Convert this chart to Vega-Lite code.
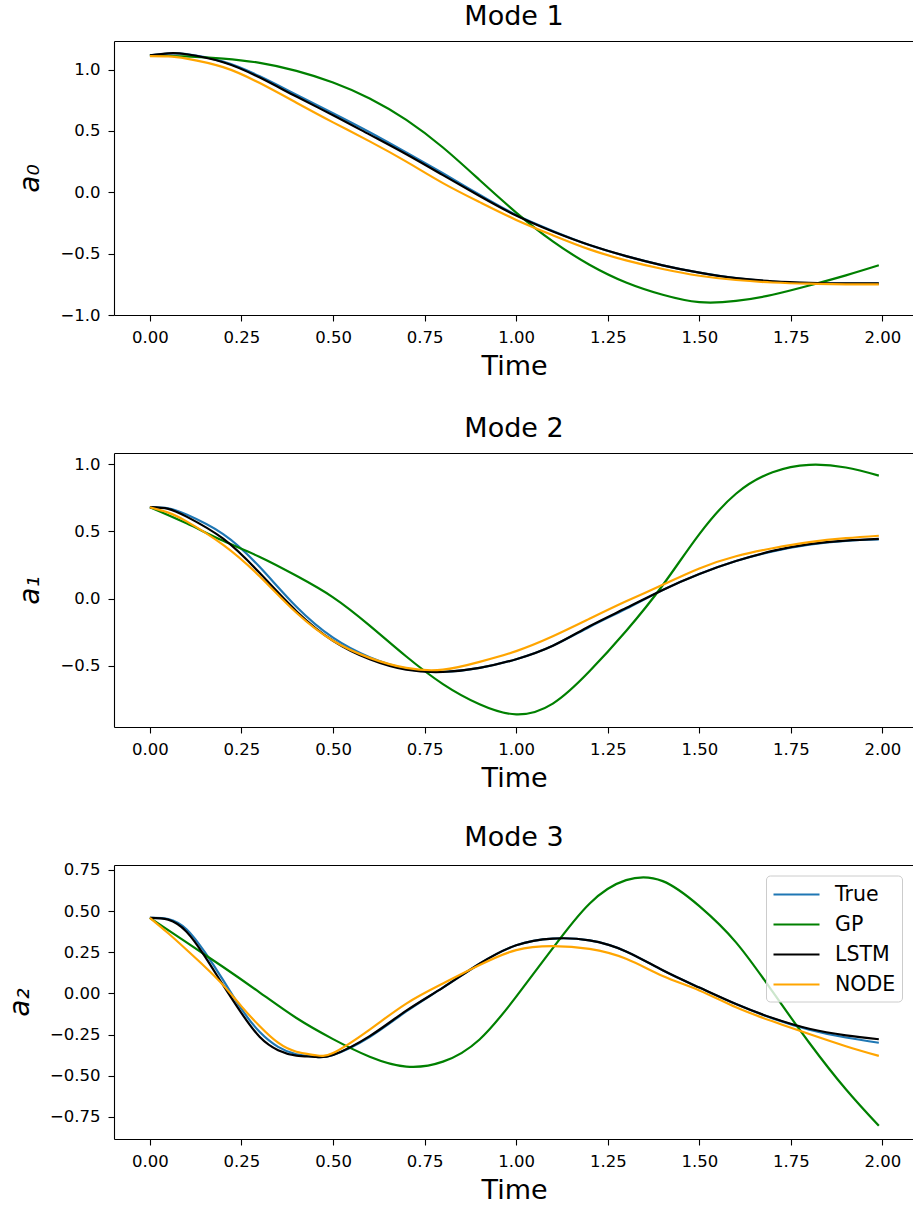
{
"$schema": "https://vega.github.io/schema/vega-lite/v6.json",
"autosize": {"type": "pad"},
"padding": {"left": 6, "top": 3, "right": 0, "bottom": 0},
"background": "white",
"config": {
 "font": "DejaVu Sans",
 "view": {"stroke": null},
 "axis": {"grid": false, "domainColor": "#000", "domainWidth": 1.1, "tickColor": "#000", "tickWidth": 1.1, "tickSize": 6, "labelFont": "DejaVu Sans", "labelFontSize": 16.5, "labelColor": "#000", "titleFont": "DejaVu Sans", "titleFontSize": 27, "titleFontWeight": "normal", "titleColor": "#000", "labelFlush": false},
 "axisX": {"titlePadding": 8, "labelPadding": 8},
 "axisY": {"titlePadding": 15, "labelPadding": 8, "titleFontStyle": "italic", "titleFontSize": 28},
 "title": {"font": "DejaVu Sans", "fontSize": 27, "fontWeight": "normal", "color": "#000", "offset": 10, "baseline": "alphabetic", "anchor": "middle"}
},
"datasets": {
 "m1": [
  {"t":0,"v":1.117,"s":"True"},{"t":0.05,"v":1.13,"s":"True"},{"t":0.1,"v":1.127,"s":"True"},{"t":0.2,"v":1.065,"s":"True"},{"t":0.3,"v":0.945,"s":"True"},{"t":0.4,"v":0.795,"s":"True"},{"t":0.5,"v":0.645,"s":"True"},{"t":0.6,"v":0.49,"s":"True"},{"t":0.7,"v":0.325,"s":"True"},{"t":0.8,"v":0.155,"s":"True"},{"t":0.9,"v":-0.02,"s":"True"},{"t":1.0,"v":-0.185,"s":"True"},{"t":1.1,"v":-0.315,"s":"True"},{"t":1.2,"v":-0.43,"s":"True"},{"t":1.3,"v":-0.52,"s":"True"},{"t":1.4,"v":-0.595,"s":"True"},{"t":1.5,"v":-0.655,"s":"True"},{"t":1.6,"v":-0.7,"s":"True"},{"t":1.7,"v":-0.727,"s":"True"},{"t":1.8,"v":-0.74,"s":"True"},{"t":1.9,"v":-0.745,"s":"True"},{"t":1.99,"v":-0.745,"s":"True"},
  {"t":0,"v":1.115,"s":"GP"},{"t":0.1,"v":1.108,"s":"GP"},{"t":0.2,"v":1.09,"s":"GP"},{"t":0.3,"v":1.055,"s":"GP"},{"t":0.4,"v":0.99,"s":"GP"},{"t":0.5,"v":0.895,"s":"GP"},{"t":0.6,"v":0.765,"s":"GP"},{"t":0.7,"v":0.59,"s":"GP"},{"t":0.8,"v":0.365,"s":"GP"},{"t":0.9,"v":0.1,"s":"GP"},{"t":1.0,"v":-0.165,"s":"GP"},{"t":1.1,"v":-0.4,"s":"GP"},{"t":1.2,"v":-0.59,"s":"GP"},{"t":1.3,"v":-0.735,"s":"GP"},{"t":1.4,"v":-0.835,"s":"GP"},{"t":1.5,"v":-0.895,"s":"GP"},{"t":1.6,"v":-0.885,"s":"GP"},{"t":1.7,"v":-0.835,"s":"GP"},{"t":1.8,"v":-0.76,"s":"GP"},{"t":1.9,"v":-0.677,"s":"GP"},{"t":1.99,"v":-0.595,"s":"GP"},
  {"t":0,"v":1.117,"s":"LSTM"},{"t":0.05,"v":1.132,"s":"LSTM"},{"t":0.1,"v":1.125,"s":"LSTM"},{"t":0.2,"v":1.06,"s":"LSTM"},{"t":0.3,"v":0.935,"s":"LSTM"},{"t":0.4,"v":0.78,"s":"LSTM"},{"t":0.5,"v":0.628,"s":"LSTM"},{"t":0.6,"v":0.47,"s":"LSTM"},{"t":0.7,"v":0.31,"s":"LSTM"},{"t":0.8,"v":0.14,"s":"LSTM"},{"t":0.9,"v":-0.03,"s":"LSTM"},{"t":1.0,"v":-0.19,"s":"LSTM"},{"t":1.1,"v":-0.32,"s":"LSTM"},{"t":1.2,"v":-0.43,"s":"LSTM"},{"t":1.3,"v":-0.52,"s":"LSTM"},{"t":1.4,"v":-0.595,"s":"LSTM"},{"t":1.5,"v":-0.655,"s":"LSTM"},{"t":1.6,"v":-0.7,"s":"LSTM"},{"t":1.7,"v":-0.725,"s":"LSTM"},{"t":1.8,"v":-0.737,"s":"LSTM"},{"t":1.9,"v":-0.742,"s":"LSTM"},{"t":1.99,"v":-0.742,"s":"LSTM"},
  {"t":0,"v":1.11,"s":"NODE"},{"t":0.05,"v":1.108,"s":"NODE"},{"t":0.1,"v":1.09,"s":"NODE"},{"t":0.2,"v":1.02,"s":"NODE"},{"t":0.3,"v":0.89,"s":"NODE"},{"t":0.4,"v":0.73,"s":"NODE"},{"t":0.5,"v":0.57,"s":"NODE"},{"t":0.6,"v":0.415,"s":"NODE"},{"t":0.7,"v":0.25,"s":"NODE"},{"t":0.8,"v":0.075,"s":"NODE"},{"t":0.9,"v":-0.08,"s":"NODE"},{"t":1.0,"v":-0.225,"s":"NODE"},{"t":1.1,"v":-0.35,"s":"NODE"},{"t":1.2,"v":-0.465,"s":"NODE"},{"t":1.3,"v":-0.555,"s":"NODE"},{"t":1.4,"v":-0.625,"s":"NODE"},{"t":1.5,"v":-0.68,"s":"NODE"},{"t":1.6,"v":-0.715,"s":"NODE"},{"t":1.7,"v":-0.735,"s":"NODE"},{"t":1.8,"v":-0.745,"s":"NODE"},{"t":1.9,"v":-0.75,"s":"NODE"},{"t":1.99,"v":-0.75,"s":"NODE"}
 ],
 "m2": [
  {"t":0,"v":0.68,"s":"True"},{"t":0.05,"v":0.672,"s":"True"},{"t":0.1,"v":0.625,"s":"True"},{"t":0.2,"v":0.48,"s":"True"},{"t":0.3,"v":0.235,"s":"True"},{"t":0.4,"v":-0.06,"s":"True"},{"t":0.5,"v":-0.29,"s":"True"},{"t":0.6,"v":-0.435,"s":"True"},{"t":0.7,"v":-0.52,"s":"True"},{"t":0.8,"v":-0.543,"s":"True"},{"t":0.9,"v":-0.515,"s":"True"},{"t":1.0,"v":-0.45,"s":"True"},{"t":1.1,"v":-0.35,"s":"True"},{"t":1.2,"v":-0.21,"s":"True"},{"t":1.3,"v":-0.075,"s":"True"},{"t":1.4,"v":0.065,"s":"True"},{"t":1.5,"v":0.184,"s":"True"},{"t":1.6,"v":0.28,"s":"True"},{"t":1.7,"v":0.352,"s":"True"},{"t":1.8,"v":0.402,"s":"True"},{"t":1.9,"v":0.43,"s":"True"},{"t":1.99,"v":0.44,"s":"True"},
  {"t":0,"v":0.68,"s":"GP"},{"t":0.1,"v":0.56,"s":"GP"},{"t":0.2,"v":0.43,"s":"GP"},{"t":0.3,"v":0.31,"s":"GP"},{"t":0.4,"v":0.17,"s":"GP"},{"t":0.5,"v":0.01,"s":"GP"},{"t":0.6,"v":-0.2,"s":"GP"},{"t":0.7,"v":-0.43,"s":"GP"},{"t":0.8,"v":-0.635,"s":"GP"},{"t":0.9,"v":-0.785,"s":"GP"},{"t":1.0,"v":-0.86,"s":"GP"},{"t":1.1,"v":-0.78,"s":"GP"},{"t":1.2,"v":-0.54,"s":"GP"},{"t":1.3,"v":-0.24,"s":"GP"},{"t":1.4,"v":0.1,"s":"GP"},{"t":1.5,"v":0.48,"s":"GP"},{"t":1.6,"v":0.78,"s":"GP"},{"t":1.7,"v":0.94,"s":"GP"},{"t":1.8,"v":0.995,"s":"GP"},{"t":1.9,"v":0.975,"s":"GP"},{"t":1.99,"v":0.915,"s":"GP"},
  {"t":0,"v":0.68,"s":"LSTM"},{"t":0.05,"v":0.668,"s":"LSTM"},{"t":0.1,"v":0.61,"s":"LSTM"},{"t":0.2,"v":0.446,"s":"LSTM"},{"t":0.3,"v":0.19,"s":"LSTM"},{"t":0.4,"v":-0.093,"s":"LSTM"},{"t":0.5,"v":-0.313,"s":"LSTM"},{"t":0.6,"v":-0.45,"s":"LSTM"},{"t":0.7,"v":-0.528,"s":"LSTM"},{"t":0.8,"v":-0.545,"s":"LSTM"},{"t":0.9,"v":-0.515,"s":"LSTM"},{"t":1.0,"v":-0.45,"s":"LSTM"},{"t":1.1,"v":-0.35,"s":"LSTM"},{"t":1.2,"v":-0.205,"s":"LSTM"},{"t":1.3,"v":-0.07,"s":"LSTM"},{"t":1.4,"v":0.065,"s":"LSTM"},{"t":1.5,"v":0.184,"s":"LSTM"},{"t":1.6,"v":0.28,"s":"LSTM"},{"t":1.7,"v":0.355,"s":"LSTM"},{"t":1.8,"v":0.405,"s":"LSTM"},{"t":1.9,"v":0.432,"s":"LSTM"},{"t":1.99,"v":0.445,"s":"LSTM"},
  {"t":0,"v":0.68,"s":"NODE"},{"t":0.05,"v":0.64,"s":"NODE"},{"t":0.1,"v":0.575,"s":"NODE"},{"t":0.2,"v":0.4,"s":"NODE"},{"t":0.3,"v":0.165,"s":"NODE"},{"t":0.4,"v":-0.105,"s":"NODE"},{"t":0.5,"v":-0.313,"s":"NODE"},{"t":0.6,"v":-0.44,"s":"NODE"},{"t":0.7,"v":-0.515,"s":"NODE"},{"t":0.8,"v":-0.528,"s":"NODE"},{"t":0.9,"v":-0.47,"s":"NODE"},{"t":1.0,"v":-0.39,"s":"NODE"},{"t":1.1,"v":-0.28,"s":"NODE"},{"t":1.2,"v":-0.15,"s":"NODE"},{"t":1.3,"v":-0.02,"s":"NODE"},{"t":1.4,"v":0.103,"s":"NODE"},{"t":1.5,"v":0.225,"s":"NODE"},{"t":1.6,"v":0.315,"s":"NODE"},{"t":1.7,"v":0.375,"s":"NODE"},{"t":1.8,"v":0.42,"s":"NODE"},{"t":1.9,"v":0.45,"s":"NODE"},{"t":1.99,"v":0.468,"s":"NODE"}
 ],
 "m3": [
  {"t":0,"v":0.459,"s":"True"},{"t":0.05,"v":0.452,"s":"True"},{"t":0.1,"v":0.39,"s":"True"},{"t":0.15,"v":0.25,"s":"True"},{"t":0.2,"v":0.08,"s":"True"},{"t":0.25,"v":-0.095,"s":"True"},{"t":0.3,"v":-0.235,"s":"True"},{"t":0.35,"v":-0.325,"s":"True"},{"t":0.4,"v":-0.37,"s":"True"},{"t":0.45,"v":-0.385,"s":"True"},{"t":0.5,"v":-0.374,"s":"True"},{"t":0.6,"v":-0.265,"s":"True"},{"t":0.7,"v":-0.11,"s":"True"},{"t":0.8,"v":0.035,"s":"True"},{"t":0.9,"v":0.18,"s":"True"},{"t":1.0,"v":0.292,"s":"True"},{"t":1.1,"v":0.333,"s":"True"},{"t":1.2,"v":0.322,"s":"True"},{"t":1.3,"v":0.255,"s":"True"},{"t":1.4,"v":0.14,"s":"True"},{"t":1.5,"v":0.035,"s":"True"},{"t":1.6,"v":-0.065,"s":"True"},{"t":1.7,"v":-0.152,"s":"True"},{"t":1.8,"v":-0.22,"s":"True"},{"t":1.9,"v":-0.268,"s":"True"},{"t":1.99,"v":-0.3,"s":"True"},
  {"t":0,"v":0.459,"s":"GP"},{"t":0.1,"v":0.31,"s":"GP"},{"t":0.2,"v":0.16,"s":"GP"},{"t":0.3,"v":0.005,"s":"GP"},{"t":0.4,"v":-0.15,"s":"GP"},{"t":0.5,"v":-0.278,"s":"GP"},{"t":0.6,"v":-0.385,"s":"GP"},{"t":0.7,"v":-0.445,"s":"GP"},{"t":0.8,"v":-0.415,"s":"GP"},{"t":0.9,"v":-0.28,"s":"GP"},{"t":1.0,"v":-0.02,"s":"GP"},{"t":1.1,"v":0.275,"s":"GP"},{"t":1.2,"v":0.545,"s":"GP"},{"t":1.3,"v":0.688,"s":"GP"},{"t":1.4,"v":0.682,"s":"GP"},{"t":1.5,"v":0.53,"s":"GP"},{"t":1.6,"v":0.31,"s":"GP"},{"t":1.7,"v":0.01,"s":"GP"},{"t":1.8,"v":-0.3,"s":"GP"},{"t":1.9,"v":-0.583,"s":"GP"},{"t":1.99,"v":-0.805,"s":"GP"},
  {"t":0,"v":0.459,"s":"LSTM"},{"t":0.05,"v":0.448,"s":"LSTM"},{"t":0.1,"v":0.375,"s":"LSTM"},{"t":0.15,"v":0.225,"s":"LSTM"},{"t":0.2,"v":0.05,"s":"LSTM"},{"t":0.25,"v":-0.12,"s":"LSTM"},{"t":0.3,"v":-0.265,"s":"LSTM"},{"t":0.35,"v":-0.345,"s":"LSTM"},{"t":0.4,"v":-0.378,"s":"LSTM"},{"t":0.45,"v":-0.386,"s":"LSTM"},{"t":0.5,"v":-0.374,"s":"LSTM"},{"t":0.6,"v":-0.26,"s":"LSTM"},{"t":0.7,"v":-0.105,"s":"LSTM"},{"t":0.8,"v":0.035,"s":"LSTM"},{"t":0.9,"v":0.18,"s":"LSTM"},{"t":1.0,"v":0.292,"s":"LSTM"},{"t":1.1,"v":0.333,"s":"LSTM"},{"t":1.2,"v":0.322,"s":"LSTM"},{"t":1.3,"v":0.255,"s":"LSTM"},{"t":1.4,"v":0.14,"s":"LSTM"},{"t":1.5,"v":0.035,"s":"LSTM"},{"t":1.6,"v":-0.065,"s":"LSTM"},{"t":1.7,"v":-0.15,"s":"LSTM"},{"t":1.8,"v":-0.215,"s":"LSTM"},{"t":1.9,"v":-0.255,"s":"LSTM"},{"t":1.99,"v":-0.279,"s":"LSTM"},
  {"t":0,"v":0.459,"s":"NODE"},{"t":0.05,"v":0.365,"s":"NODE"},{"t":0.1,"v":0.265,"s":"NODE"},{"t":0.15,"v":0.162,"s":"NODE"},{"t":0.2,"v":0.05,"s":"NODE"},{"t":0.25,"v":-0.079,"s":"NODE"},{"t":0.3,"v":-0.2,"s":"NODE"},{"t":0.35,"v":-0.3,"s":"NODE"},{"t":0.4,"v":-0.355,"s":"NODE"},{"t":0.45,"v":-0.375,"s":"NODE"},{"t":0.5,"v":-0.362,"s":"NODE"},{"t":0.6,"v":-0.22,"s":"NODE"},{"t":0.7,"v":-0.062,"s":"NODE"},{"t":0.8,"v":0.06,"s":"NODE"},{"t":0.9,"v":0.172,"s":"NODE"},{"t":1.0,"v":0.263,"s":"NODE"},{"t":1.1,"v":0.287,"s":"NODE"},{"t":1.2,"v":0.27,"s":"NODE"},{"t":1.3,"v":0.21,"s":"NODE"},{"t":1.4,"v":0.106,"s":"NODE"},{"t":1.5,"v":0.018,"s":"NODE"},{"t":1.6,"v":-0.085,"s":"NODE"},{"t":1.7,"v":-0.17,"s":"NODE"},{"t":1.8,"v":-0.247,"s":"NODE"},{"t":1.9,"v":-0.321,"s":"NODE"},{"t":1.99,"v":-0.38,"s":"NODE"}
 ]
},
"bounds": "flush",
"spacing": 138,
"resolve": {"scale": {"color": "independent"}, "legend": {"color": "independent"}},
"vconcat": [
 {
  "width": 800, "height": 274,
  "title": {"text": "Mode 1"},
  "data": {"name": "m1"},
  "layer": [
   {"mark": {"type": "line", "strokeWidth": 2.2, "interpolate": "natural"},
    "encoding": {
     "x": {"field": "t", "type": "quantitative", "scale": {"domain": [-0.098, 2.086], "nice": false, "zero": false}, "axis": {"orient": "bottom", "title": "Time", "values": [0, 0.25, 0.5, 0.75, 1, 1.25, 1.5, 1.75, 2], "format": ".2f"}},
     "y": {"field": "v", "type": "quantitative", "scale": {"domain": [-1.0, 1.233], "nice": false, "zero": false}, "axis": {"title": "a₀", "values": [-1, -0.5, 0, 0.5, 1], "format": ".1f"}},
     "color": {"field": "s", "type": "nominal", "scale": {"domain": ["True", "GP", "LSTM", "NODE"], "range": ["#1f77b4", "#008000", "#000000", "#ffa500"]}, "legend": null}
    }},
   {"mark": {"type": "point", "opacity": 0},
    "encoding": {"x": {"field": "t", "type": "quantitative", "axis": {"orient": "top", "labels": false, "ticks": false, "title": null}}}}
  ],
  "resolve": {"axis": {"x": "independent"}}
 },
 {
  "width": 800, "height": 274,
  "title": {"text": "Mode 2"},
  "data": {"name": "m2"},
  "layer": [
   {"mark": {"type": "line", "strokeWidth": 2.2, "interpolate": "natural"},
    "encoding": {
     "x": {"field": "t", "type": "quantitative", "scale": {"domain": [-0.098, 2.086], "nice": false, "zero": false}, "axis": {"orient": "bottom", "title": "Time", "values": [0, 0.25, 0.5, 0.75, 1, 1.25, 1.5, 1.75, 2], "format": ".2f"}},
     "y": {"field": "v", "type": "quantitative", "scale": {"domain": [-0.954, 1.083], "nice": false, "zero": false}, "axis": {"title": "a₁", "values": [-0.5, 0, 0.5, 1], "format": ".1f"}},
     "color": {"field": "s", "type": "nominal", "scale": {"domain": ["True", "GP", "LSTM", "NODE"], "range": ["#1f77b4", "#008000", "#000000", "#ffa500"]}, "legend": null}
    }},
   {"mark": {"type": "point", "opacity": 0},
    "encoding": {"x": {"field": "t", "type": "quantitative", "axis": {"orient": "top", "labels": false, "ticks": false, "title": null}}}}
  ],
  "resolve": {"axis": {"x": "independent"}}
 },
 {
  "width": 800, "height": 274,
  "title": {"text": "Mode 3"},
  "data": {"name": "m3"},
  "layer": [
   {"mark": {"type": "line", "strokeWidth": 2.2, "interpolate": "natural"},
    "encoding": {
     "x": {"field": "t", "type": "quantitative", "scale": {"domain": [-0.098, 2.086], "nice": false, "zero": false}, "axis": {"orient": "bottom", "title": "Time", "values": [0, 0.25, 0.5, 0.75, 1, 1.25, 1.5, 1.75, 2], "format": ".2f"}},
     "y": {"field": "v", "type": "quantitative", "scale": {"domain": [-0.885, 0.78], "nice": false, "zero": false}, "axis": {"title": "a₂", "values": [-0.75, -0.5, -0.25, 0, 0.25, 0.5, 0.75], "format": ".2f"}},
     "color": {"field": "s", "type": "nominal", "scale": {"domain": ["True", "GP", "LSTM", "NODE"], "range": ["#1f77b4", "#008000", "#000000", "#ffa500"]},
      "legend": {"orient": "none", "legendX": 652, "legendY": 10.5, "title": null, "symbolType": "M-1,0H3", "symbolSize": 529, "symbolStrokeWidth": 2.2, "labelFontSize": 20.5, "labelFont": "DejaVu Sans", "labelColor": "#000", "labelOffset": 37, "labelExpr": "datum.label + ' '", "rowPadding": 6, "padding": 6, "strokeColor": "#cccccc", "fillColor": "rgba(255,255,255,0.8)", "cornerRadius": 4}}
    }},
   {"mark": {"type": "point", "opacity": 0},
    "encoding": {"x": {"field": "t", "type": "quantitative", "axis": {"orient": "top", "labels": false, "ticks": false, "title": null}}}}
  ],
  "resolve": {"axis": {"x": "independent"}}
 }
]
}
